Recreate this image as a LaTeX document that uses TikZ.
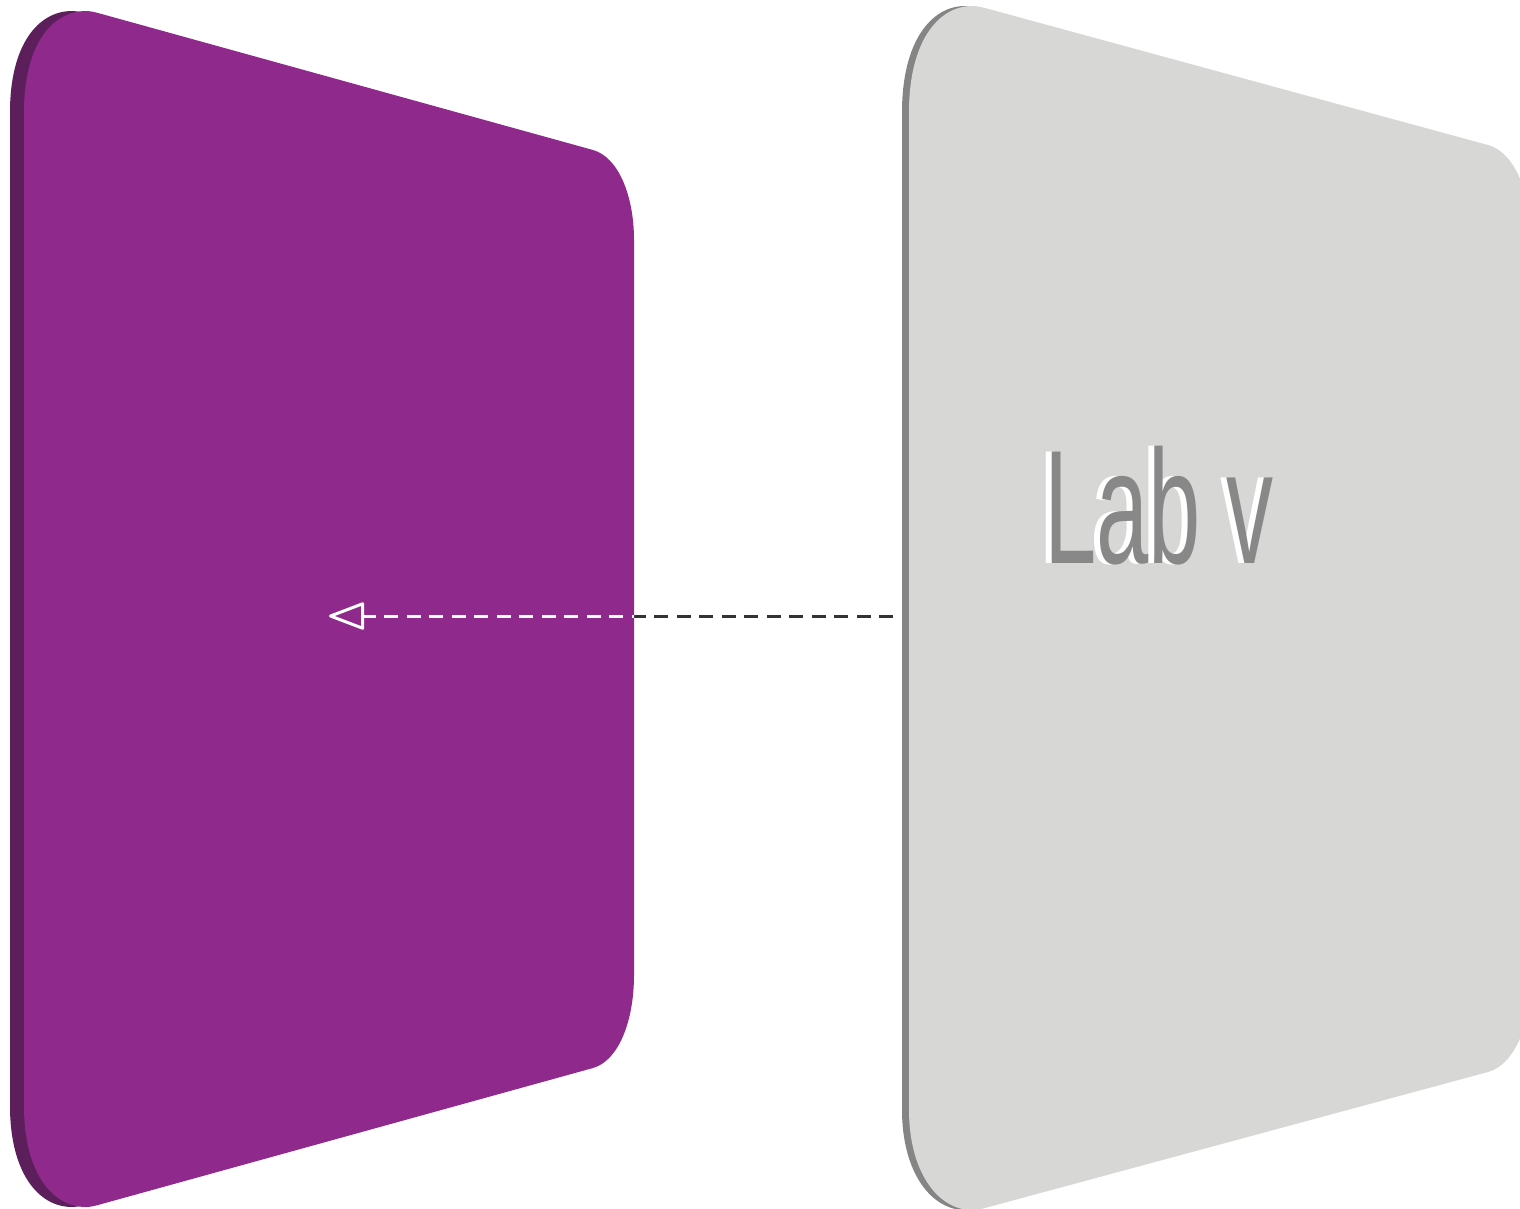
\documentclass[tikz,border=0pt]{standalone}
\usepackage{fontspec}
\setmainfont{Liberation Sans}
\usetikzlibrary{arrows.meta}

\definecolor{panelpurple}{HTML}{8F298C}
\definecolor{edgepurple}{HTML}{5C1F5B}
\definecolor{panelgray}{HTML}{D7D7D5}
\definecolor{edgegray}{HTML}{858585}
\definecolor{flowdark}{HTML}{333333}
\definecolor{labside}{HTML}{888888}

\tikzset{
  flow/.style={line width=3pt, dash pattern=on 14pt off 8.5pt,
    -{Triangle[open, length=38pt, width=28pt, round]}},
  labtext/.style={inner sep=0pt, anchor=base west, xscale=0.58,
    font=\fontsize{162}{170}\selectfont}
}

\newcommand{\leftface}{(24,112) .. controls (24,45) and (52,11) .. (86,11)
  .. controls (90,11) and (94,12) .. (98,13) -- (593,150)
  .. controls (618,157) and (634,195) .. (634,240) -- (634,975)
  .. controls (634,1022) and (618,1061) .. (593,1068) -- (98,1205)
  .. controls (94,1206) and (90,1207) .. (86,1207)
  .. controls (52,1207) and (24,1172) .. (24,1106) -- cycle}
\newcommand{\rightface}{(909,112) .. controls (909,42) and (938,6) .. (972,6)
  .. controls (977,6) and (981,7) .. (985,8) -- (1488,145)
  .. controls (1514,152) and (1531,192) .. (1531,238) -- (1531,980)
  .. controls (1531,1025) and (1514,1065) .. (1488,1072) -- (985,1208)
  .. controls (981,1209) and (977,1210) .. (972,1210)
  .. controls (938,1210) and (909,1172) .. (909,1110) -- cycle}

\begin{document}
\begin{tikzpicture}[x=1pt, y=-1pt]
\useasboundingbox (0,0) rectangle (1520,1208);

% panels
\fill[edgepurple, xshift=-14pt] \leftface;
\fill[panelpurple] \leftface;
\fill[edgegray, xshift=-7pt] \rightface;
\fill[panelgray] \rightface;

% label
\node[labtext, white] (labfront) at (1038,563) {Lab v};
\node[labtext, labside] (labback) at ([xshift=6pt]labfront.base west) {Lab v};

\coordinate (src) at (893,616);
\coordinate (dst) at (329,616);

% connector
\begin{scope}
  \clip (634,0) rectangle (1520,1208);
  \draw[flow, flowdark] (src) -- (dst);
\end{scope}
\begin{scope}
  \clip (0,0) rectangle (634,1208);
  \draw[flow, white] (src) -- (dst);
\end{scope}
\end{tikzpicture}
\end{document}
